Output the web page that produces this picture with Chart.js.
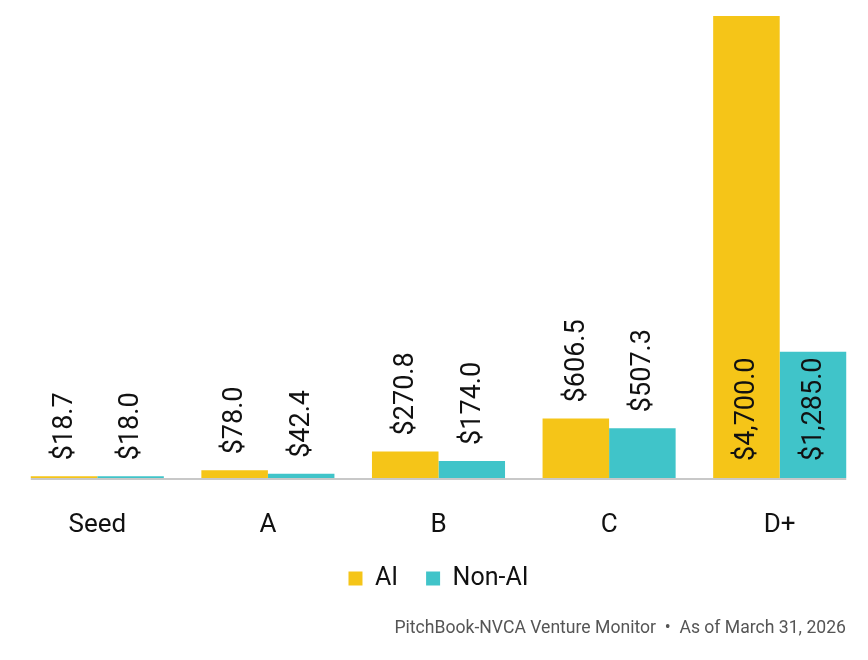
<!DOCTYPE html>
<html>
<head>
<meta charset="utf-8">
<script src="https://cdn.jsdelivr.net/npm/chart.js@4.4.1/dist/chart.umd.min.js"></script>
<style>
  html, body { margin: 0; padding: 0; background: #fff; }
  #wrap { width: 868px; height: 660px; }
</style>
</head>
<body>
<div id="wrap"><canvas id="chart"></canvas></div>
<script>
// Dados do gráfico
const categories = ['Seed', 'A', 'B', 'C', 'D+'];
const aiValues = [18.7, 78.0, 270.8, 606.5, 4700.0];
const nonAiValues = [18.0, 42.4, 174.0, 507.3, 1285.0];
const footerText = 'PitchBook-NVCA Venture Monitor  \u2022  As of March 31, 2026';

const FONT = 'Roboto, "Noto Sans", sans-serif';

// Formata o valor como $1,285.0
function fmt(v) {
  return '$' + v.toLocaleString('en-US', { minimumFractionDigits: 1, maximumFractionDigits: 1 });
}

// Linha de base, rótulos de valor (rotacionados) e rodapé
const valueLabels = {
  id: 'valueLabels',
  beforeDatasetsDraw(chart) {
    const ctx = chart.ctx;
    const first = chart.getDatasetMeta(0).data[0];
    const last = chart.getDatasetMeta(1).data[categories.length - 1];
    const y = chart.scales.y.getPixelForValue(0);
    ctx.save();
    ctx.strokeStyle = '#c8c8c8';
    ctx.lineWidth = 2;
    ctx.beginPath();
    ctx.moveTo(first.x - first.width / 2, y + 1);
    ctx.lineTo(last.x + last.width / 2, y + 1);
    ctx.stroke();
    ctx.restore();
  },
  afterDatasetsDraw(chart) {
    const ctx = chart.ctx;
    ctx.save();
    ctx.font = '27px ' + FONT;
    ctx.fillStyle = '#111';
    ctx.textAlign = 'left';
    ctx.textBaseline = 'middle';
    chart.data.datasets.forEach((ds, i) => {
      chart.getDatasetMeta(i).data.forEach((bar, j) => {
        const text = fmt(ds.data[j]);
        const w = ctx.measureText(text).width;
        const h = bar.base - bar.y;
        // dentro da barra se couber, senão acima
        const start = h > w + 10 ? bar.base - 17 : bar.y - 16;
        ctx.save();
        ctx.translate(bar.x, start);
        ctx.rotate(-Math.PI / 2);
        ctx.fillText(text, 0, 1);
        ctx.restore();
      });
    });
    ctx.restore();
  },
  afterDraw(chart) {
    const ctx = chart.ctx;
    ctx.save();
    ctx.font = '17.6px ' + FONT;
    ctx.fillStyle = '#555';
    ctx.textAlign = 'right';
    ctx.textBaseline = 'middle';
    ctx.fillText(footerText, 846, 629);
    ctx.restore();
  }
};

new Chart(document.getElementById('chart'), {
  type: 'bar',
  data: {
    labels: categories,
    datasets: [
      { label: 'AI', data: aiValues, backgroundColor: '#F5C518' },
      { label: 'Non-AI', data: nonAiValues, backgroundColor: '#40C4C9' }
    ]
  },
  options: {
    responsive: true,
    maintainAspectRatio: false,
    animation: false,
    categoryPercentage: 0.78,
    barPercentage: 1.0,
    layout: { padding: { top: 16, left: 12, right: 3, bottom: 59 } },
    plugins: {
      legend: {
        position: 'bottom',
        labels: {
          boxWidth: 14,
          boxHeight: 14,
          padding: 28,
          color: '#111',
          font: { family: FONT, size: 25 }
        }
      },
      tooltip: { enabled: false }
    },
    scales: {
      x: {
        grid: { display: false, drawTicks: false },
        border: { display: false },
        ticks: { color: '#111', padding: 32, font: { family: FONT, size: 26 } },
        afterFit(scale) { scale.height = 60; }
      },
      y: {
        display: false,
        min: 0,
        max: 4700
      }
    }
  },
  plugins: [valueLabels]
});
</script>
</body>
</html>
